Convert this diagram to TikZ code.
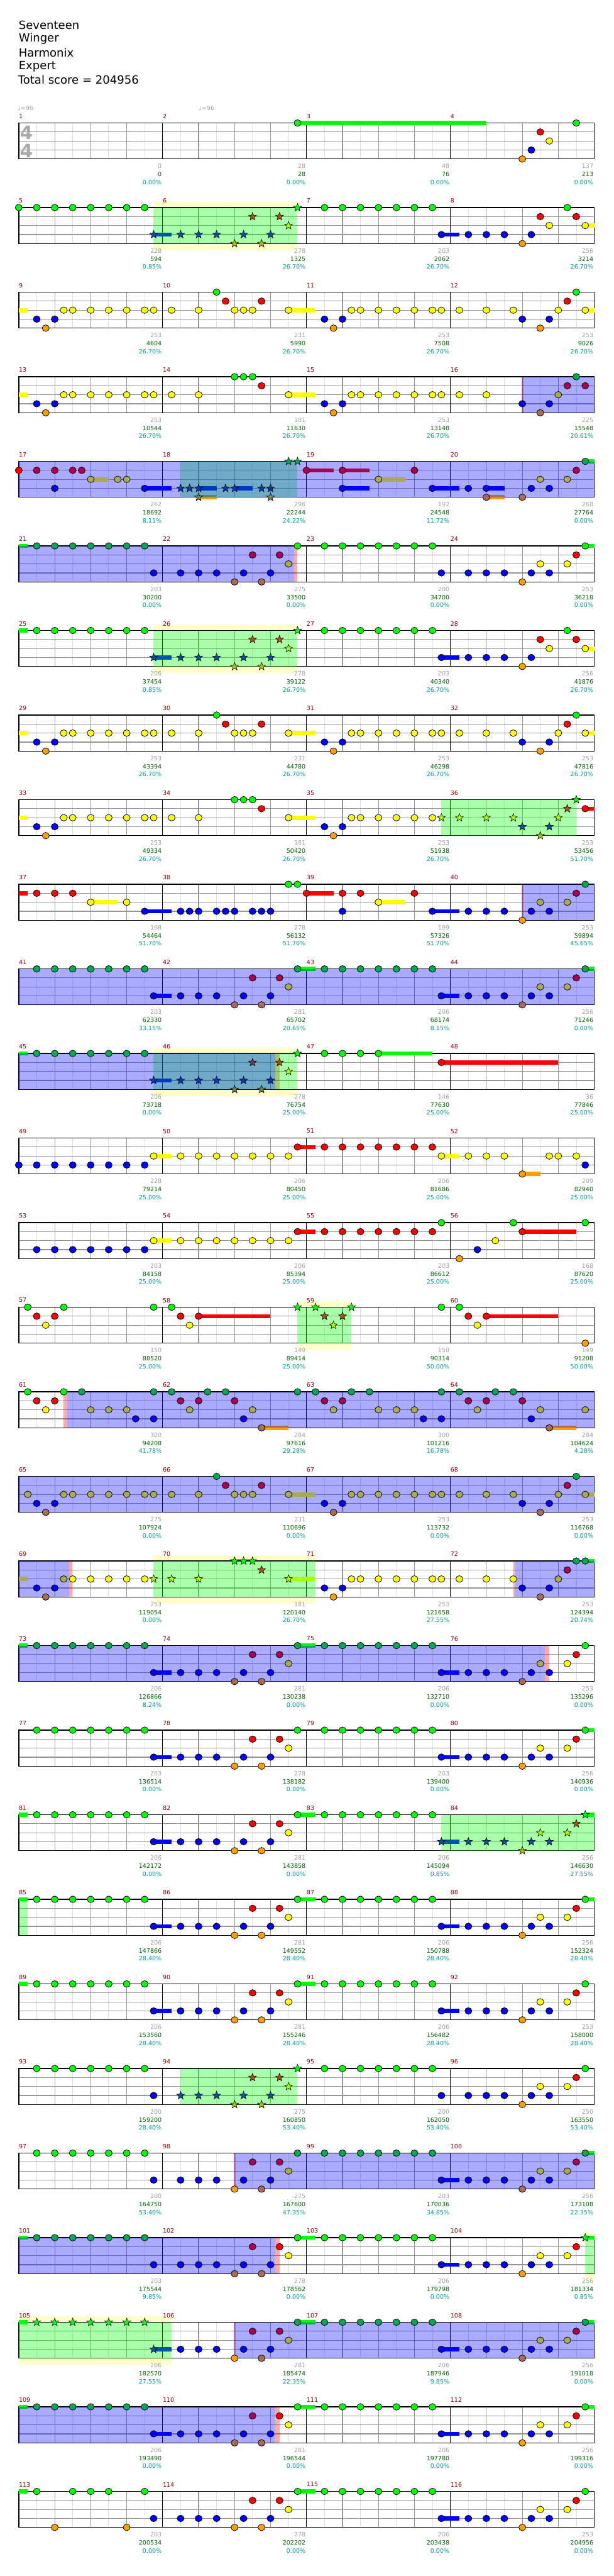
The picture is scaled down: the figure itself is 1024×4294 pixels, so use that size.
\documentclass[tikz,border=0pt]{standalone}
\usepackage{fontspec}
\setmainfont{DejaVu Sans}
\usetikzlibrary{shapes.geometric}

\definecolor{ngreen}{RGB}{0,255,0}
\definecolor{nred}{RGB}{255,0,0}
\definecolor{nyellow}{RGB}{255,255,0}
\definecolor{nblue}{RGB}{0,0,255}
\definecolor{norange}{RGB}{255,160,0}
\definecolor{dgreen}{RGB}{0,170,85}
\definecolor{dred}{RGB}{170,0,85}
\definecolor{dyellow}{RGB}{170,170,85}
\definecolor{dblue}{RGB}{0,0,255}
\definecolor{dorange}{RGB}{170,107,85}
\definecolor{sgreen}{RGB}{0,255,0}
\definecolor{sred}{RGB}{170,85,0}
\definecolor{syellow}{RGB}{170,255,0}
\definecolor{sblue}{RGB}{0,85,170}
\definecolor{sorange}{RGB}{170,192,0}
\definecolor{tgreen}{RGB}{0,170,85}
\definecolor{tred}{RGB}{113,57,85}
\definecolor{tyellow}{RGB}{113,170,85}
\definecolor{tblue}{RGB}{0,57,198}
\definecolor{torange}{RGB}{113,128,85}
\definecolor{barred}{RGB}{153,0,0}
\definecolor{numgray}{RGB}{160,160,160}
\definecolor{numgreen}{RGB}{0,100,0}
\definecolor{numteal}{RGB}{0,153,153}
\definecolor{gridlight}{RGB}{225,225,225}
\definecolor{gridmid}{RGB}{150,150,150}
\definecolor{bandyellow}{RGB}{255,255,204}
\definecolor{siggray}{RGB}{170,170,170}

\tikzset{
  note/.style={ellipse,draw=black,line width=0.6pt,inner sep=0pt,minimum width=8.8pt,minimum height=8.2pt},
  pstar/.style={star,star points=5,star point ratio=2.4,draw=black,line width=0.45pt,inner sep=0pt,minimum size=10.5pt},
  n0/.style={note,fill=ngreen}, n1/.style={note,fill=nred}, n2/.style={note,fill=nyellow},
  n3/.style={note,fill=nblue}, n4/.style={note,fill=norange},
  n0d/.style={note,fill=dgreen}, n1d/.style={note,fill=dred}, n2d/.style={note,fill=dyellow},
  n3d/.style={note,fill=dblue}, n4d/.style={note,fill=dorange},
  s0/.style={pstar,fill=sgreen}, s1/.style={pstar,fill=sred}, s2/.style={pstar,fill=syellow},
  s3/.style={pstar,fill=sblue}, s4/.style={pstar,fill=sorange},
  s0d/.style={pstar,fill=tgreen}, s1d/.style={pstar,fill=tred}, s2d/.style={pstar,fill=tyellow},
  s3d/.style={pstar,fill=tblue}, s4d/.style={pstar,fill=torange},
  c0/.style={fill=ngreen}, c1/.style={fill=nred}, c2/.style={fill=nyellow},
  c3/.style={fill=nblue}, c4/.style={fill=norange},
  cream/.style={fill=bandyellow},
  spfill/.style={fill=ngreen,fill opacity=0.333},
  odfill/.style={fill=nblue,fill opacity=0.333},
  pinkfill/.style={fill=nred,fill opacity=0.333},
  fine/.style={draw=gridlight,line width=0.75pt},
  beat/.style={draw=gridmid,line width=0.9pt},
  bar/.style={draw=black,line width=0.75pt},
  frame/.style={draw=black,line width=1.1pt},
  small/.style={inner sep=0pt,font=\fontsize{7.5}{8}\selectfont},
  mnum/.style={small,anchor=west,text=barred},
  gnum/.style={small,anchor=east,text=numgray},
  snum/.style={small,anchor=east,text=numgreen},
  pnum/.style={small,anchor=east,text=numteal},
  tempo/.style={small,anchor=west,text=numgray},
  tsig/.style={inner sep=0pt,text=siggray,font=\bfseries\fontsize{23}{23}\selectfont},
  title/.style={anchor=west,inner sep=0pt,font=\fontsize{14.2}{16}\selectfont}
}

\newcommand{\setod}[4]{\def\odlo{#1}\def\odhi{#2}\def\odloB{#3}\def\odhiB{#4}}
\setod{-9}{-9}{-9}{-9}
\newcommand{\nt}[3]{\foreach \v in {#3}{%
  \pgfmathtruncatemacro\inod{and(\v>\odlo+0.1,\v<\odhi)+and(\v>\odloB+0.1,\v<\odhiB)}%
  \ifnum\inod>0 \node[#1#2d] (#1#2-\v) at ({31.3+15*\v},{15*#2}) {};%
  \else \node[#1#2] (#1#2-\v) at ({31.3+15*\v},{15*#2}) {};\fi}}
\newcommand{\sus}[3]{\fill[c#1] ({31.3+15*#2},{15*#1-3.5}) rectangle ({31.3+15*#3},{15*#1+3.5});}
\newcommand{\odr}[2]{\fill[odfill] ({31.3+15*#1},0) rectangle ({31.3+15*#2},60);}
\newcommand{\spr}[2]{\fill[spfill] ({31.3+15*#1},0) rectangle ({31.3+15*#2},60);}
\newcommand{\pk}[2]{\fill[pinkfill] ({31.3+15*#1},0) rectangle ({31.3+15*#2},60);}
\newcommand{\band}[2]{\fill[cream] ({31.3+15*#1},-10) rectangle ({31.3+15*#2},71);}
\newcommand{\staff}{%
  \fill[white] (31.3,0) rectangle (991.3,60);
  \foreach \k in {1,3,...,31} \draw[fine] ({31.3+30*\k},0) -- ++(0,60);
  \foreach \k in {2,4,6,10,12,14,18,20,22,26,28,30} \draw[beat] ({31.3+30*\k},0) -- ++(0,60);
  \foreach \y in {15,30,45} \draw[beat] (31.3,\y) -- (991.3,\y);
  \foreach \k in {8,16,24} \draw[bar] ({31.3+30*\k},0) -- ++(0,60);
  \draw[frame] (31.3,0) rectangle (991.3,60);}
\newcommand{\meas}[5]{%
  \node[mnum] (m#2) at ({31.3+240*#1},-11.5) {#2};
  \node[gnum] (g#2) at ({30+240*(#1+1)},72) {#3};
  \node[snum] (s#2) at ({30+240*(#1+1)},85.5) {#4};
  \node[pnum] (p#2) at ({30+240*(#1+1)},99) {#5\%};}
% recurring figures
\newcommand{\gA}[1]{\nt{#1}0{2,4,...,14}}
\newcommand{\gB}{\nt n0{34,36,...,46}}
\newcommand{\lickA}[1]{\nt{#1}3{18,20,22,25,28}\nt{#1}4{24,27}\nt{#1}1{26,29}\nt{#1}2{30}\nt{#1}0{31}}
\newcommand{\lickB}[1]{\nt{#1}3{50,52,54,57,59}\nt{#1}4{56}\nt{#1}2{58,61}\nt{#1}1{62}}
\newcommand{\lickC}{\nt n3{50,52,54,57}\nt n4{56}\nt n1{58,62}\nt n2{59,63}\nt n0{61}}
\newcommand{\riffY}{\nt n3{2,4}\nt n4{3}\nt n2{5,6,8,10,12,14,15,17,20,24,25,26,30}\nt n0{22}\nt n1{23,27}}
\newcommand{\riffZ}{\nt n3{2,4}\nt n4{3}\nt n2{5,6,8,10,12,14,15,17,20,30}\nt n0{24,25,26}\nt n1{27}}
\newcommand{\riffW}{\nt n3{34,36}\nt n4{35}\nt n2{37,38,40,42,44,46}}
\newcommand{\riffV}{\riffW\nt n2{47,49,52,55,60,63}\nt n3{56,59}\nt n4{58}\nt n1{61}\nt n0{62}}

\begin{document}
\begin{tikzpicture}[x=0.75pt,y=-0.75pt]
\useasboundingbox (0,0) rectangle (1024,4294);
\node[title] (song) at (31,42) {Seventeen};
\node[title] (artist) at (31,65) {Winger};
\node[title] (charter) at (31,88) {Harmonix};
\node[title] (level) at (31,110.5) {Expert};
\node[title] (total) at (30,133) {Total score = 204956};

% m1-4
\begin{scope}[shift={(0,205)}]
\staff\sus0{31}{52}
\node[tsig] (ts1) at (44,15.5) {4};
\node[tsig] (ts2) at (44,46) {4};
\node[tempo] (bpm1) at (29.5,-25) {♩=96};
\node[tempo] (bpm2) at (331.5,-25) {♩=96};
\nt n0{31,62}\nt n4{56}\nt n3{57}\nt n1{58}\nt n2{59}
\meas0{1}{0}{0}{0.00}\meas1{2}{28}{28}{0.00}\meas2{3}{48}{76}{0.00}\meas3{4}{137}{213}{0.00}
\end{scope}
% m5-8
\begin{scope}[shift={(0,346)}]
\band{15}{31}\staff\sus3{15}{17}\sus3{47}{49}\sus2{63}{64}\spr{15}{31}
\nt n0{0,2,...,14}\nt s3{15}\lickA s\gB\nt n3{47}\lickC
\meas0{5}{228}{594}{0.85}\meas1{6}{278}{1325}{26.70}\meas2{7}{203}{2062}{26.70}\meas3{8}{256}{3214}{26.70}
\end{scope}
% m9-12
\begin{scope}[shift={(0,487)}]
\staff\sus2{0}{1}\sus2{30}{33}\sus2{63}{64}
\riffY\riffV
\meas0{9}{253}{4604}{26.70}\meas1{10}{231}{5990}{26.70}\meas2{11}{253}{7508}{26.70}\meas3{12}{253}{9026}{26.70}
\end{scope}
% m13-16
\begin{scope}[shift={(0,628)}]
\setod{56}{64}{-9}{-9}
\staff\sus2{0}{1}\sus2{30}{33}\pk{55.9}{56.1}\odr{56}{64}
\riffZ\riffW\nt n2{47,49,52,60}\nt n3{56,59}\nt n4{58}\nt n1{61,63}\nt n0{62}
\meas0{13}{253}{10544}{26.70}\meas1{14}{181}{11630}{26.70}\meas2{15}{253}{13148}{26.70}\meas3{16}{225}{15548}{20.61}
\end{scope}
% m17-20
\begin{scope}[shift={(0,769)}]
\setod{0}{64}{-9}{-9}
\staff\sus2{8}{10}\sus3{14}{17}\sus3{20}{22}\sus3{24}{26}\sus4{20}{22}\sus1{32}{35}\sus1{36}{39}\sus3{36}{39}
\sus2{40}{43}\sus3{46}{49}\sus3{52}{54}\sus4{52}{54}\sus0{63}{64}
\spr{18}{31}\odr{0}{64}
\nt n1{0,2,4,6,7}\nt n2{8,11,12}\nt n3{4,14}\nt s3{18,19,20,23,24,27,28}\nt s4{20,28}\nt s0{30,31}
\nt n1{32,36,44,62}\nt n2{40,58,61}\nt n3{36,46,50,52,57,59}\nt n4{52,56}\nt n0{63}
\meas0{17}{262}{18692}{8.11}\meas1{18}{296}{22244}{24.22}\meas2{19}{192}{24548}{11.72}\meas3{20}{268}{27764}{0.00}
\end{scope}
% m21-24
\begin{scope}[shift={(0,910)}]
\setod{0}{30.65}{-9}{-9}
\staff\sus0{0}{1}\sus0{63}{64}\pk{30.65}{31}\odr{0}{30.65}
\gA n\nt n3{15}\lickA n\gB\nt n3{47}\lickB n\nt n0{63}
\meas0{21}{203}{30200}{0.00}\meas1{22}{275}{33500}{0.00}\meas2{23}{200}{34700}{0.00}\meas3{24}{253}{36218}{0.00}
\end{scope}
% m25-28
\begin{scope}[shift={(0,1051)}]
\band{15}{31}\staff\sus0{0}{1}\sus3{15}{17}\sus3{47}{49}\sus2{63}{64}\spr{15}{31}
\gA n\nt s3{15}\lickA s\gB\nt n3{47}\lickC
\meas0{25}{206}{37454}{0.85}\meas1{26}{278}{39122}{26.70}\meas2{27}{203}{40340}{26.70}\meas3{28}{256}{41876}{26.70}
\end{scope}
% m29-32
\begin{scope}[shift={(0,1192)}]
\staff\sus2{0}{1}\sus2{30}{33}\sus2{63}{64}
\riffY\riffV
\meas0{29}{253}{43394}{26.70}\meas1{30}{231}{44780}{26.70}\meas2{31}{253}{46298}{26.70}\meas3{32}{253}{47816}{26.70}
\end{scope}
% m33-36
\begin{scope}[shift={(0,1333)}]
\staff\sus2{0}{1}\sus2{30}{33}\sus1{63}{64}\spr{47}{62}
\riffZ\riffW\nt s2{47,49,52,55,60}\nt s3{56,59}\nt s4{58}\nt s1{61}\nt s0{62}\nt n1{63}
\meas0{33}{253}{49334}{26.70}\meas1{34}{181}{50420}{26.70}\meas2{35}{253}{51938}{26.70}\meas3{36}{253}{53456}{51.70}
\end{scope}
% m37-40
\begin{scope}[shift={(0,1474)}]
\setod{56}{64}{-9}{-9}
\staff\sus1{0}{1}\sus2{8}{11}\sus3{14}{17}\sus1{32}{35}\sus2{40}{43}\sus3{46}{49}\pk{55.9}{56.1}\odr{56}{64}
\nt n1{2,4,6}\nt n2{8,12}\nt n3{14,18,19,20,22,23,24,26,27,28}\nt n0{30,31}
\nt n1{32,36,38,44}\nt n2{40}\nt n3{36,46}\lickB n\nt n0{63}
\meas0{37}{168}{54464}{51.70}\meas1{38}{278}{56132}{51.70}\meas2{39}{199}{57326}{51.70}\meas3{40}{253}{59894}{45.65}
\end{scope}
% m41-44
\begin{scope}[shift={(0,1615)}]
\setod{0}{64}{-9}{-9}
\staff\sus3{15}{17}\sus0{31}{33}\sus3{47}{49}\sus0{63}{64}\odr{0}{64}
\gA n\nt n3{15}\lickA n\gB\nt n3{47}\lickB n\nt n0{63}
\meas0{41}{203}{62330}{33.15}\meas1{42}{281}{65702}{20.65}\meas2{43}{206}{68174}{8.15}\meas3{44}{256}{71246}{0.00}
\end{scope}
% m45-48
\begin{scope}[shift={(0,1756)}]
\setod{0}{28.5}{-9}{-9}
\band{15}{31}\staff\sus0{0}{1}\sus3{15}{17}\sus0{40}{46}\sus1{47}{60}\pk{28.5}{29}\spr{15}{31}\odr{0}{28.5}
\gA n\nt s3{15}\lickA s\nt n0{34,36,38,40}\nt n1{47}
\meas0{45}{206}{73718}{0.00}\meas1{46}{278}{76754}{25.00}\meas2{47}{146}{77630}{25.00}\meas3{48}{36}{77846}{25.00}
\end{scope}
% m49-52
\begin{scope}[shift={(0,1897)}]
\staff\sus2{15}{17}\sus1{31}{33}\sus2{47}{49}\sus4{56}{58}
\nt n3{0,2,...,14}\nt n3{63}\nt n2{15}\nt n2{18,20,...,30}\nt n1{31}\nt n1{34,36,...,46}
\nt n2{47,50,52,54,59,60,62}\nt n4{56}
\meas0{49}{228}{79214}{25.00}\meas1{50}{206}{80450}{25.00}\meas2{51}{206}{81686}{25.00}\meas3{52}{209}{82940}{25.00}
\end{scope}
% m53-56
\begin{scope}[shift={(0,2038)}]
\staff\sus2{15}{17}\sus1{31}{33}\sus1{56}{62}
\nt n3{2,4,...,14}\nt n2{15}\nt n2{18,20,...,30}\nt n1{31}\nt n1{34,36,...,46}
\nt n0{47,55,63}\nt n4{49}\nt n3{51}\nt n2{53}\nt n1{56}
\meas0{53}{203}{84158}{25.00}\meas1{54}{206}{85394}{25.00}\meas2{55}{203}{86612}{25.00}\meas3{56}{168}{87620}{25.00}
\end{scope}
% m57-60
\begin{scope}[shift={(0,2179)}]
\band{31}{37}\staff\sus1{20}{28}\sus1{52}{60}\spr{31}{37}
\nt n0{1,5,15,17,47,49}\nt n1{2,4,18,20,50,52}\nt n2{3,19,51}\nt s0{31,33,37}\nt s1{34,36}\nt s2{35}\nt n4{63}
\meas0{57}{150}{88520}{25.00}\meas1{58}{149}{89414}{25.00}\meas2{59}{150}{90314}{50.00}\meas3{60}{149}{91208}{50.00}
\end{scope}
% m61-64
\begin{scope}[shift={(0,2320)}]
\setod{5.4}{64}{-9}{-9}
\staff\sus4{27}{30}\sus4{59}{62}\pk{5}{5.4}\odr{5.4}{64}
\nt n0{1,5,7,15,17,21,23,31,33,37,39,47,49,53,55}\nt n1{2,4,18,20,24,34,36,50,52,56}
\nt n2{3,8,10,12,19,26,35,40,42,44,51,58,63}\nt n3{13,15,25,45,47,57}\nt n4{27,59}
\meas0{61}{300}{94208}{41.78}\meas1{62}{284}{97616}{29.28}\meas2{63}{300}{101216}{16.78}\meas3{64}{284}{104624}{4.28}
\end{scope}
% m65-68
\begin{scope}[shift={(0,2461)}]
\setod{0}{64}{-9}{-9}
\staff\sus2{30}{33}\sus2{63}{64}\odr{0}{64}
\nt n2{1}\riffY\riffV
\meas0{65}{275}{107924}{0.00}\meas1{66}{231}{110696}{0.00}\meas2{67}{253}{113732}{0.00}\meas3{68}{253}{116768}{0.00}
\end{scope}
% m69-72
\begin{scope}[shift={(0,2602)}]
\setod{0}{5.57}{55.2}{64}
\band{15}{33}\staff\sus2{0}{1}\sus2{30}{33}\sus0{63}{64}\pk{5.57}{5.96}\pk{55}{55.2}\spr{15}{33}\odr{0}{5.57}\odr{55.2}{64}
\nt n3{2,4}\nt n4{3}\nt n2{5,6,8,10,12,14}\nt s2{15,17,20,30}\nt s0{24,25,26}\nt s1{27}
\riffW\nt n2{47,49,52,55,60}\nt n3{56,59}\nt n4{58}\nt n1{61}\nt n0{62,63}
\meas0{69}{253}{119054}{0.00}\meas1{70}{181}{120140}{26.70}\meas2{71}{253}{121658}{27.55}\meas3{72}{253}{124394}{20.74}
\end{scope}
% m73-76
\begin{scope}[shift={(0,2743)}]
\setod{0}{58.5}{-9}{-9}
\staff\sus0{0}{1}\sus3{15}{17}\sus0{31}{33}\sus3{47}{49}\pk{58.5}{59}\odr{0}{58.5}
\gA n\nt n3{15}\lickA n\gB\nt n3{47}\lickB n\nt n0{63}
\meas0{73}{206}{126866}{8.24}\meas1{74}{281}{130238}{0.00}\meas2{75}{206}{132710}{0.00}\meas3{76}{253}{135296}{0.00}
\end{scope}
% m77-80
\begin{scope}[shift={(0,2884)}]
\staff\sus3{15}{17}\sus3{47}{49}\sus0{63}{64}
\gA n\nt n3{15}\lickA n\gB\nt n3{47}\lickB n\nt n0{63}
\meas0{77}{203}{136514}{0.00}\meas1{78}{278}{138182}{0.00}\meas2{79}{203}{139400}{0.00}\meas3{80}{256}{140936}{0.00}
\end{scope}
% m81-84
\begin{scope}[shift={(0,3025)}]
\staff\sus0{0}{1}\sus3{15}{17}\sus0{31}{33}\sus3{47}{49}\sus0{63}{64}\spr{47}{64}
\gA n\nt n3{15}\lickA n\gB\nt s3{47}\lickB s\nt s0{63}
\meas0{81}{206}{142172}{0.00}\meas1{82}{281}{143858}{0.00}\meas2{83}{206}{145094}{0.85}\meas3{84}{256}{146630}{27.55}
\end{scope}
% m85-88
\begin{scope}[shift={(0,3166)}]
\staff\sus0{0}{1}\sus3{15}{17}\sus0{31}{33}\sus3{47}{49}\sus0{63}{64}\spr{0}{1}
\gA n\nt n3{15}\lickA n\gB\nt n3{47}\lickB n\nt n0{63}
\meas0{85}{206}{147866}{28.40}\meas1{86}{281}{149552}{28.40}\meas2{87}{206}{150788}{28.40}\meas3{88}{256}{152324}{28.40}
\end{scope}
% m89-92
\begin{scope}[shift={(0,3307)}]
\staff\sus0{0}{1}\sus3{15}{17}\sus0{31}{33}\sus3{47}{49}
\gA n\nt n3{15}\lickA n\gB\nt n3{47}\lickB n\nt n0{63}
\meas0{89}{206}{153560}{28.40}\meas1{90}{281}{155246}{28.40}\meas2{91}{206}{156482}{28.40}\meas3{92}{253}{158000}{28.40}
\end{scope}
% m93-96
\begin{scope}[shift={(0,3448)}]
\staff\spr{18}{31}
\gA n\nt n3{15}\lickA s\gB\nt n3{47}\lickB n\nt n0{63}
\meas0{93}{200}{159200}{28.40}\meas1{94}{275}{160850}{53.40}\meas2{95}{200}{162050}{53.40}\meas3{96}{250}{163550}{53.40}
\end{scope}
% m97-100
\begin{scope}[shift={(0,3589)}]
\setod{24}{64}{-9}{-9}
\staff\sus3{47}{49}\sus0{63}{64}\pk{23.9}{24.1}\odr{24}{64}
\gA n\nt n3{15}\lickA n\gB\nt n3{47}\lickB n\nt n0{63}
\meas0{97}{200}{164750}{53.40}\meas1{98}{275}{167600}{47.35}\meas2{99}{203}{170036}{34.85}\meas3{100}{256}{173108}{22.35}
\end{scope}
% m101-104
\begin{scope}[shift={(0,3730)}]
\setod{0}{28.5}{-9}{-9}
\band{63}{64}\staff\sus0{0}{1}\sus0{31}{33}\sus3{47}{49}\sus0{63}{64}\pk{28.5}{29}\spr{63}{64}\odr{0}{28.5}
\gA n\nt n3{15}\lickA n\gB\nt n3{47}\lickB n\nt s0{63}
\meas0{101}{203}{175544}{9.85}\meas1{102}{278}{178562}{0.00}\meas2{103}{206}{179798}{0.00}\meas3{104}{256}{181334}{0.85}
\end{scope}
% m105-108
\begin{scope}[shift={(0,3871)}]
\setod{24}{64}{-9}{-9}
\band{0}{17}\staff\sus0{0}{1}\sus3{15}{17}\sus0{31}{33}\sus3{47}{49}\sus0{63}{64}\pk{23.9}{24.1}\spr{0}{17}\odr{24}{64}
\gA s\nt s3{15}\lickA n\gB\nt n3{47}\lickB n\nt n0{63}
\meas0{105}{206}{182570}{27.55}\meas1{106}{281}{185474}{22.35}\meas2{107}{206}{187946}{9.85}\meas3{108}{256}{191018}{0.00}
\end{scope}
% m109-112
\begin{scope}[shift={(0,4012)}]
\setod{0}{28.5}{-9}{-9}
\staff\sus0{0}{1}\sus3{15}{17}\sus0{31}{33}\sus3{47}{49}\sus0{63}{64}\pk{28.5}{29}\odr{0}{28.5}
\gA n\nt n3{15}\lickA n\gB\nt n3{47}\lickB n\nt n0{63}
\meas0{109}{206}{193490}{0.00}\meas1{110}{281}{196544}{0.00}\meas2{111}{206}{197780}{0.00}\meas3{112}{256}{199316}{0.00}
\end{scope}
% m113-116
\begin{scope}[shift={(0,4153)}]
\staff\sus0{0}{1}\sus0{31}{33}\sus3{47}{49}
\nt n0{2,6,8,10,14}\nt n4{4,12}\nt n3{15}\lickA n\gB\nt n3{47}\lickB n\nt n0{63}
\meas0{113}{203}{200534}{0.00}\meas1{114}{278}{202202}{0.00}\meas2{115}{206}{203438}{0.00}\meas3{116}{253}{204956}{0.00}
\end{scope}
\end{tikzpicture}
\end{document}
